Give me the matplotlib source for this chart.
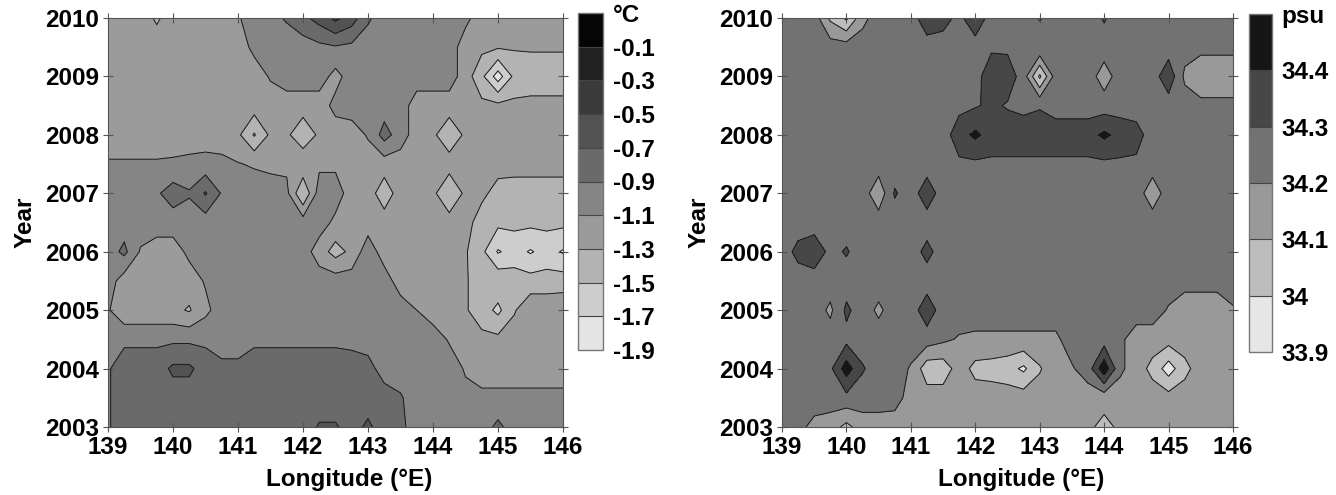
import numpy as np
import matplotlib
matplotlib.use("Agg")
import matplotlib.pyplot as plt
from matplotlib.colors import ListedColormap, BoundaryNorm

plt.rcParams['font.family'] = ['Liberation Sans', 'DejaVu Sans']
plt.rcParams['font.weight'] = 'bold'

# grid: longitudes (deg E) and years
lon = [139.0, 139.25, 139.5, 139.75, 140.0, 140.25, 140.5, 140.75, 141.0, 141.25,
       141.5, 141.75, 142.0, 142.25, 142.5, 142.75, 143.0, 143.25, 143.5, 143.75,
       144.0, 144.25, 144.5, 144.75, 145.0, 145.25, 145.5, 145.75, 146.0]
years = [2010, 2009.5, 2009, 2008.5, 2008, 2007.5, 2007, 2006.5, 2006, 2005.5,
         2005, 2004.5, 2004, 2003.5, 2003]

# temperature (degC), rows follow `years`, columns follow `lon`
temp = [
 [-1.2,-1.2,-1.2,-1.33,-1.2,-1.2,-1.2,-1.2,-1.12,-1.0,-0.95,-0.88,-0.75,-0.62,-0.45,-0.6,-0.87,-1.0,-1.0,-1.0,-1.0,-1.0,-1.05,-1.2,-1.2,-1.2,-1.2,-1.2,-1.2],
 [-1.2,-1.2,-1.2,-1.2,-1.2,-1.2,-1.2,-1.2,-1.2,-1.05,-1.0,-1.0,-1.0,-0.95,-0.92,-0.95,-1.0,-1.0,-1.0,-1.0,-1.0,-1.0,-1.2,-1.25,-1.28,-1.28,-1.28,-1.28,-1.28],
 [-1.2,-1.2,-1.2,-1.2,-1.2,-1.2,-1.2,-1.2,-1.2,-1.2,-1.08,-1.0,-1.0,-1.0,-1.17,-1.0,-1.0,-1.0,-1.0,-1.0,-1.0,-1.0,-1.2,-1.45,-1.8,-1.45,-1.4,-1.4,-1.4],
 [-1.2,-1.2,-1.2,-1.2,-1.2,-1.2,-1.2,-1.2,-1.2,-1.2,-1.2,-1.2,-1.2,-1.2,-1.04,-1.0,-1.0,-1.0,-1.0,-1.2,-1.2,-1.2,-1.2,-1.25,-1.25,-1.25,-1.25,-1.25,-1.25],
 [-1.2,-1.2,-1.2,-1.2,-1.2,-1.2,-1.2,-1.2,-1.26,-1.52,-1.26,-1.26,-1.45,-1.26,-1.2,-1.2,-1.08,-0.82,-1.0,-1.2,-1.26,-1.45,-1.26,-1.2,-1.2,-1.2,-1.2,-1.2,-1.2],
 [-1.08,-1.08,-1.08,-1.08,-1.07,-1.05,-1.03,-1.05,-1.09,-1.12,-1.15,-1.14,-1.13,-1.14,-1.14,-1.2,-1.2,-1.2,-1.2,-1.2,-1.2,-1.2,-1.2,-1.2,-1.22,-1.22,-1.22,-1.22,-1.22],
 [-1.0,-1.0,-1.0,-0.93,-0.8,-0.88,-0.68,-0.92,-1.0,-1.0,-1.0,-1.05,-1.5,-1.0,-1.0,-1.2,-1.2,-1.42,-1.2,-1.2,-1.25,-1.5,-1.25,-1.25,-1.38,-1.4,-1.4,-1.4,-1.4],
 [-1.0,-1.0,-1.0,-1.0,-1.0,-1.0,-1.0,-1.0,-1.0,-1.0,-1.0,-1.0,-1.0,-1.0,-1.15,-1.2,-1.2,-1.2,-1.2,-1.2,-1.2,-1.2,-1.22,-1.4,-1.45,-1.45,-1.45,-1.45,-1.45],
 [-1.0,-0.85,-1.12,-1.2,-1.2,-1.05,-1.0,-1.0,-1.0,-1.0,-1.0,-1.0,-1.0,-1.2,-1.38,-1.25,-0.98,-1.2,-1.2,-1.2,-1.2,-1.2,-1.28,-1.45,-1.72,-1.62,-1.72,-1.62,-1.72],
 [-1.0,-1.2,-1.2,-1.2,-1.2,-1.2,-1.08,-1.0,-1.0,-1.0,-1.0,-1.0,-1.0,-1.0,-1.0,-1.0,-1.0,-1.0,-1.2,-1.2,-1.2,-1.2,-1.28,-1.4,-1.35,-1.4,-1.42,-1.42,-1.4],
 [-1.08,-1.25,-1.25,-1.25,-1.25,-1.32,-1.15,-1.0,-1.0,-1.0,-1.0,-1.0,-1.0,-1.0,-1.0,-1.0,-1.0,-1.0,-1.0,-1.1,-1.2,-1.2,-1.28,-1.4,-1.55,-1.32,-1.15,-1.15,-1.15],
 [-0.94,-0.94,-0.94,-0.94,-0.94,-0.94,-0.94,-1.0,-1.0,-0.94,-0.94,-0.94,-0.94,-0.94,-0.94,-0.96,-1.0,-1.0,-1.0,-1.0,-1.0,-1.12,-1.2,-1.25,-1.25,-1.2,-1.2,-1.2,-1.2],
 [-0.92,-0.8,-0.8,-0.8,-0.66,-0.66,-0.8,-0.85,-0.85,-0.8,-0.8,-0.8,-0.8,-0.8,-0.8,-0.8,-0.82,-1.0,-1.0,-1.0,-1.0,-1.0,-1.12,-1.2,-1.2,-1.2,-1.2,-1.2,-1.2],
 [-0.92,-0.8,-0.8,-0.8,-0.8,-0.8,-0.8,-0.8,-0.8,-0.8,-0.8,-0.8,-0.8,-0.8,-0.8,-0.8,-0.8,-0.8,-0.88,-1.0,-1.0,-1.0,-1.05,-1.05,-1.05,-1.05,-1.05,-1.05,-1.05],
 [-0.92,-0.8,-0.8,-0.8,-0.8,-0.8,-0.8,-0.8,-0.8,-0.8,-0.8,-0.8,-0.8,-0.68,-0.68,-0.78,-0.66,-0.8,-0.85,-1.0,-1.0,-1.0,-1.0,-1.0,-0.85,-1.0,-1.0,-1.0,-1.0],
]

# salinity (psu)
sal = [
 [34.25,34.25,34.25,34.08,33.98,34.17,34.25,34.25,34.25,34.37,34.34,34.27,34.38,34.25,34.25,34.25,34.19,34.25,34.25,34.25,34.31,34.25,34.25,34.25,34.25,34.25,34.25,34.25,34.25],
 [34.25,34.25,34.25,34.25,34.25,34.25,34.25,34.25,34.25,34.25,34.25,34.25,34.25,34.28,34.28,34.25,34.29,34.25,34.25,34.25,34.25,34.25,34.25,34.25,34.25,34.24,34.23,34.23,34.23],
 [34.25,34.25,34.25,34.25,34.25,34.25,34.25,34.25,34.25,34.25,34.25,34.25,34.25,34.38,34.36,34.25,33.98,34.25,34.25,34.25,34.15,34.25,34.25,34.25,34.37,34.18,34.12,34.12,34.12],
 [34.25,34.25,34.25,34.25,34.25,34.25,34.25,34.25,34.25,34.25,34.25,34.27,34.29,34.32,34.29,34.27,34.29,34.25,34.25,34.25,34.25,34.25,34.25,34.25,34.25,34.25,34.23,34.23,34.23],
 [34.25,34.25,34.25,34.25,34.25,34.25,34.25,34.25,34.25,34.25,34.25,34.36,34.42,34.36,34.36,34.36,34.36,34.36,34.36,34.36,34.42,34.37,34.34,34.25,34.25,34.25,34.25,34.25,34.25],
 [34.25,34.25,34.25,34.25,34.25,34.25,34.25,34.25,34.25,34.25,34.25,34.28,34.28,34.28,34.28,34.28,34.28,34.28,34.28,34.28,34.28,34.28,34.28,34.25,34.25,34.25,34.25,34.25,34.25],
 [34.25,34.25,34.25,34.25,34.25,34.25,34.13,34.31,34.25,34.36,34.25,34.25,34.25,34.25,34.25,34.25,34.25,34.25,34.25,34.25,34.25,34.25,34.25,34.14,34.25,34.25,34.25,34.25,34.25],
 [34.25,34.25,34.25,34.25,34.25,34.25,34.25,34.25,34.25,34.25,34.25,34.25,34.25,34.25,34.25,34.25,34.25,34.25,34.25,34.25,34.25,34.25,34.25,34.25,34.25,34.25,34.25,34.25,34.25],
 [34.25,34.33,34.37,34.27,34.31,34.25,34.25,34.25,34.25,34.33,34.25,34.25,34.25,34.25,34.25,34.25,34.25,34.25,34.25,34.25,34.25,34.25,34.25,34.25,34.25,34.25,34.25,34.25,34.25],
 [34.25,34.25,34.25,34.25,34.25,34.25,34.25,34.25,34.25,34.25,34.25,34.25,34.25,34.25,34.25,34.25,34.25,34.25,34.25,34.25,34.25,34.25,34.25,34.25,34.25,34.25,34.25,34.25,34.25],
 [34.25,34.25,34.25,34.18,34.32,34.25,34.18,34.25,34.25,34.36,34.25,34.25,34.25,34.25,34.25,34.25,34.25,34.25,34.25,34.25,34.25,34.25,34.25,34.25,34.19,34.12,34.12,34.12,34.19],
 [34.25,34.25,34.25,34.25,34.27,34.25,34.25,34.25,34.25,34.25,34.22,34.19,34.18,34.18,34.18,34.18,34.18,34.18,34.25,34.25,34.25,34.22,34.15,34.15,34.14,34.15,34.15,34.15,34.15],
 [34.25,34.25,34.25,34.28,34.45,34.31,34.25,34.25,34.19,34.04,34.04,34.15,34.07,34.06,34.04,33.98,34.09,34.17,34.19,34.25,34.47,34.22,34.15,34.07,33.95,34.07,34.15,34.15,34.15],
 [34.25,34.25,34.25,34.25,34.27,34.25,34.25,34.24,34.16,34.15,34.15,34.15,34.15,34.15,34.15,34.15,34.15,34.15,34.15,34.15,34.14,34.15,34.15,34.15,34.14,34.15,34.15,34.15,34.15],
 [34.25,34.23,34.17,34.15,34.07,34.15,34.15,34.15,34.15,34.15,34.15,34.15,34.15,34.15,34.15,34.15,34.15,34.15,34.15,34.12,34.07,34.12,34.15,34.15,34.15,34.15,34.15,34.15,34.15],
]

temp_levels = [-1.9, -1.7, -1.5, -1.3, -1.1, -0.9, -0.7, -0.5, -0.3, -0.1, 0.1]
temp_ticklabels = ['-1.9', '-1.7', '-1.5', '-1.3', '-1.1', '-0.9', '-0.7', '-0.5', '-0.3', '-0.1', '°C']
temp_colors = ['#e4e4e4', '#cdcdcd', '#b3b3b3', '#9b9b9b', '#858585', '#6a6a6a',
               '#525252', '#3a3a3a', '#212121', '#050505']

sal_levels = [33.9, 34.0, 34.1, 34.2, 34.3, 34.4, 34.5]
sal_ticklabels = ['33.9', '34', '34.1', '34.2', '34.3', '34.4', 'psu']
sal_colors = ['#e6e6e6', '#bdbdbd', '#999999', '#727272', '#474747', '#161616']

year_ticks = [2003, 2004, 2005, 2006, 2007, 2008, 2009, 2010]
lon_ticks = [139, 140, 141, 142, 143, 144, 145, 146]

W, H = 1336, 495
fig = plt.figure(figsize=(W / 100, H / 100), dpi=100)

def px(x0, y0, x1, y1):
    return [x0 / W, 1 - y1 / H, (x1 - x0) / W, (y1 - y0) / H]

panels = [
    (temp, temp_levels, temp_colors, temp_ticklabels, px(108, 18, 563, 427), px(578, 13, 603, 350)),
    (sal, sal_levels, sal_colors, sal_ticklabels, px(782, 18, 1233, 427), px(1249, 14, 1272, 352)),
]

FS = 17.5
spine_col = '#555555'
for Z, lv, cols, tl, apos, cpos in panels:
    ax = fig.add_axes(apos)
    cax = fig.add_axes(cpos)
    cmap = ListedColormap(cols)
    norm = BoundaryNorm(lv, cmap.N)
    Zarr = np.array(Z)
    cf = ax.contourf(lon, years, Zarr, levels=lv, cmap=cmap, norm=norm)
    ax.contour(lon, years, Zarr, levels=lv, colors='#1a1a1a', linewidths=0.7,
               linestyles='solid')
    ax.set_xlim(139, 146)
    ax.set_ylim(2003, 2010)
    ax.set_xticks(lon_ticks)
    ax.set_yticks(year_ticks)
    ax.tick_params(direction='inout', length=7, width=0.8, color=spine_col,
                   top=True, right=True, labelsize=FS, pad=3)
    for lab in ax.get_xticklabels() + ax.get_yticklabels():
        lab.set_fontweight('bold')
    for s in ax.spines.values():
        s.set_color(spine_col)
        s.set_linewidth(0.8)
    ax.set_xlabel('Longitude (°E)', fontsize=FS, fontweight='bold')
    ax.xaxis.set_label_coords(0.53, -0.1)
    ax.set_ylabel('Year', fontsize=FS, fontweight='bold', labelpad=6)

    cb = fig.colorbar(cf, cax=cax, drawedges=True)
    cb.set_ticks(lv)
    cb.set_ticklabels(tl)
    cb.ax.tick_params(length=0, labelsize=FS, pad=7)
    for lab in cb.ax.get_yticklabels():
        lab.set_fontweight('bold')
    cb.outline.set_edgecolor('#777777')
    cb.outline.set_linewidth(1.0)
    cb.dividers.set_color('#444444')
    cb.dividers.set_linewidth(0.8)

fig.savefig('out.png', dpi=100)
